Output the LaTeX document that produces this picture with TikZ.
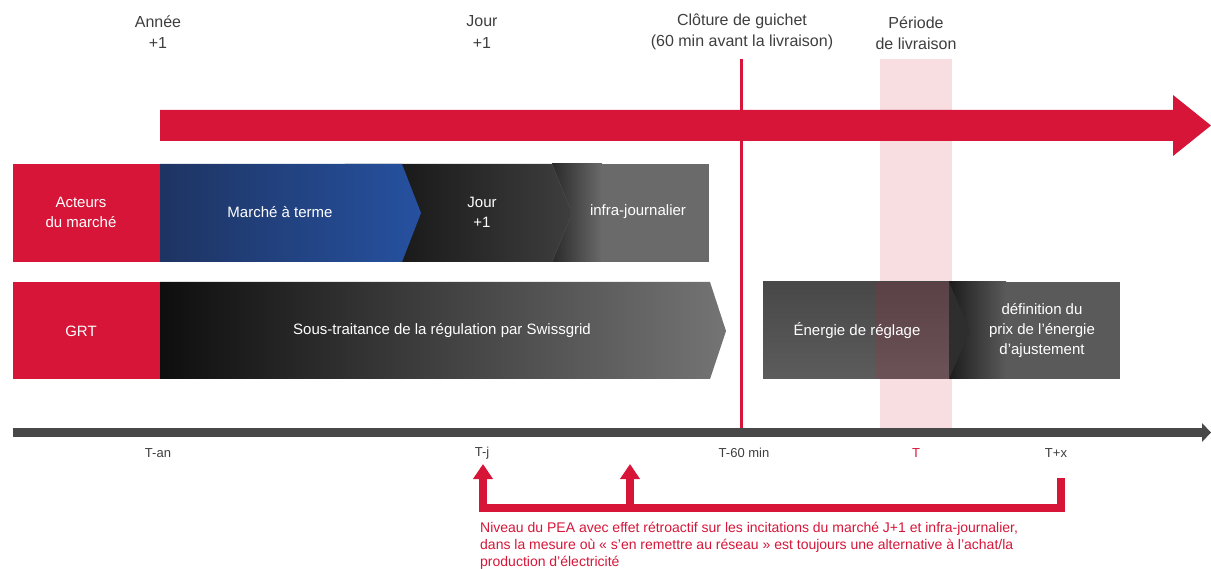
\documentclass[tikz,border=0pt]{standalone}
\usepackage{fontspec}
\setmainfont{Liberation Sans}
\usetikzlibrary{arrows.meta}
\definecolor{sred}{RGB}{214,21,56}
\definecolor{spink}{RGB}{248,221,225}
\definecolor{txtgray}{RGB}{62,62,62}
\definecolor{axgray}{RGB}{72,72,72}
\definecolor{navyL}{RGB}{30,52,98}
\definecolor{blueR}{RGB}{38,81,160}
\definecolor{dk1}{RGB}{14,14,14}
\definecolor{dk2}{RGB}{62,62,62}
\definecolor{dk3}{RGB}{42,42,42}
\definecolor{gr1}{RGB}{106,106,106}
\definecolor{gr2}{RGB}{116,116,116}
\definecolor{en1}{RGB}{72,72,72}
\definecolor{en2}{RGB}{92,92,92}
\definecolor{df1}{RGB}{28,28,28}
\definecolor{df2}{RGB}{90,90,90}
\definecolor{chev}{RGB}{46,46,46}
\begin{document}
\begin{tikzpicture}[x=1pt,y=-1pt,
  lbl/.style={text=txtgray, align=center, inner sep=0pt, font=\fontsize{16}{21}\selectfont},
  boxtxt/.style={text=white, align=center, inner sep=0pt, font=\fontsize{15}{20}\selectfont},
  axlbl/.style={text=txtgray, inner sep=0pt, font=\fontsize{13}{15}\selectfont},
  redbox/.style={fill=sred, draw=none},
  brk/.style={draw=sred, line width=8pt, line join=miter},
  brkarrow/.style={brk, -{Triangle[width=19pt,length=15pt]}}
]
\useasboundingbox (0,0) rectangle (1211,569);

% delivery band and gate closure line
\fill[spink] (880,59) rectangle (952,428);
\draw[sred, line width=3pt] (741,59) -- (741,428);

% big red time arrow
\fill[sred] (160,110) -- (1173,110) -- (1173,95) -- (1211,125.5) -- (1173,156) -- (1173,141) -- (160,141) -- cycle;

% top labels
\node[lbl] (annee) at (158,32) {Année\\+1};
\node[lbl] (jour) at (482,32) {Jour\\+1};
\node[lbl] (cloture) at (742,32) {Clôture de guichet\\(60 min avant la livraison)};
\node[lbl] (periode) at (916,33) {Période\\de livraison};

% row 1
\fill[redbox] (13,164) rectangle (160,262);
\shade[left color=dk3, right color=gr1] (552,164) rectangle (602,262);
\fill[gr1] (601,164) rectangle (709,262);
\shade[left color=dk1, right color=dk2] (345,164) -- (552,164) -- (572,213) -- (552,262) -- (345,262) -- cycle;
\draw[black!70, line width=0.4pt] (552,164) -- (572,213) -- (552,262);
\shade[left color=navyL, middle color=blueR, right color=blueR] (160,164) -- (402,164) -- (421,213) -- (402,262) -- (160,262) -- cycle;
\node[boxtxt] (acteurs) at (81,212) {Acteurs\\du marché};
\node[boxtxt] (terme) at (280,212) {Marché à terme};
\node[boxtxt] (jourbox) at (482,212) {Jour\\+1};
\node[boxtxt] (infra) at (638,212) {infra-journalier};

% row 2
\fill[redbox] (13,282) rectangle (160,379);
\shade[left color=dk1, right color=gr2] (160,282) -- (710,282) -- (726,331) -- (710,379) -- (160,379) -- cycle;
\node[boxtxt] (grt) at (81,331) {GRT};
\node[boxtxt] (sous) at (442,331) {Sous-traitance de la régulation par Swissgrid};

% energie / definition
\shade[left color=df1, right color=df2] (949,282) rectangle (1006,379);
\fill[df2] (1005,282) rectangle (1120,379);
\shade[top color=en1, bottom color=en2] (763,282) rectangle (949,379);
\fill[sred, opacity=0.13] (876,282) rectangle (949,379);
\fill[chev] (949,282) -- (970,331) -- (949,379) -- cycle;
\node[boxtxt] (energie) at (857,331) {Énergie de réglage};
\node[boxtxt] (definition) at (1042,331) {définition du\\prix de l’énergie\\d’ajustement};

% time axis
\fill[axgray] (13,428) rectangle (1203,437);
\fill[axgray] (1202,423) -- (1211,432.5) -- (1202,442) -- cycle;
\node[axlbl] (tan) at (158,453) {T-an};
\node[axlbl] (tj) at (482,453) {T-j};
\node[axlbl] (t60) at (744,453) {T-60 min};
\node[axlbl, text=sred] (t) at (916,453) {T};
\node[axlbl] (tx) at (1056,453) {T+x};

% feedback bracket
\coordinate (rtop) at (1061,478);
\coordinate (rcorner) at (1061,508);
\coordinate (lend) at (479,508);
\coordinate (lbase) at (483,512);
\coordinate (ltip) at (483,464);
\coordinate (mbase) at (630,508);
\coordinate (mtip) at (630,464);
\draw[brk] (rtop) -- (rcorner) -- (lend);
\draw[brkarrow] (lbase) -- (ltip);
\draw[brkarrow] (mbase) -- (mtip);

\node[anchor=north west, inner sep=0pt, align=left, text=sred, font=\fontsize{14}{17}\selectfont] (note) at (480,522)
  {Niveau du PEA avec effet rétroactif sur les incitations du marché J+1 et infra-journalier,\\
   dans la mesure où « s’en remettre au réseau » est toujours une alternative à l’achat/la\\
   production d’électricité};
\end{tikzpicture}
\end{document}
